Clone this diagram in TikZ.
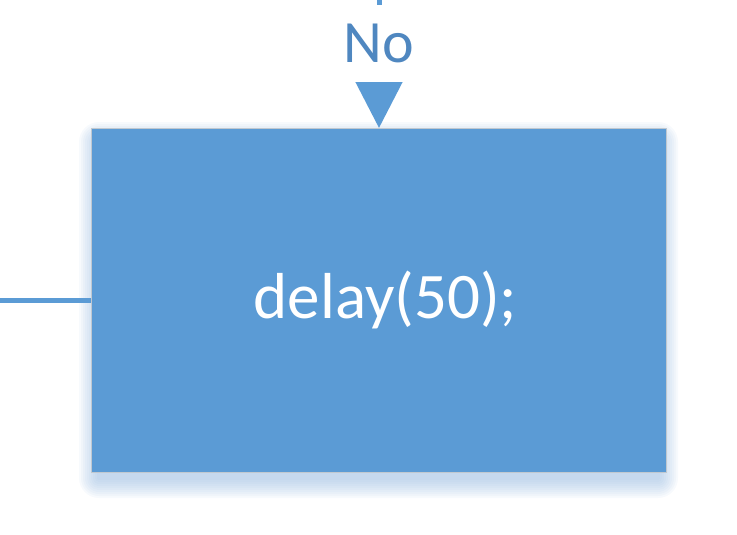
\documentclass[tikz,border=0pt]{standalone}
\usepackage{fontspec}
\setmainfont{Carlito}
\usetikzlibrary{arrows.meta}
\definecolor{boxblue}{HTML}{5B9BD5}
\definecolor{labelblue}{HTML}{4F87C0}
\definecolor{boxedge}{HTML}{C0C8D0}
\definecolor{shadowblue}{HTML}{8FB4DE}
\tikzset{
  procbox/.style={draw=boxedge, line width=1pt, fill=boxblue, minimum width=575pt, minimum height=344pt, inner sep=0pt,
    text=white, font=\fontsize{65}{72}\selectfont},
  conn/.style={draw=boxblue, line width=5pt},
  lbl/.style={fill=white, text=labelblue, inner sep=0pt, font=\fontsize{60}{66}\selectfont, minimum height=77pt, minimum width=90pt},
  shade layer/.style={fill=shadowblue, fill opacity=0.07, draw=none}
}
\begin{document}
\begin{tikzpicture}[x=1pt,y=-1pt]
\useasboundingbox (0,0) rectangle (737,535);
\foreach \r in {2,4,...,20}{
  \fill[shade layer, rounded corners=\r pt] (91-\r+8,128-\r+14) rectangle (666+\r-8,472+\r+6);
}
\node[procbox] (box) at (378.5,300) {\raisebox{-3pt}{\hspace{14pt}delay(50);}};
\coordinate (top) at (379,-2);
\coordinate (left) at (-2,300);
\draw[conn, -{Triangle[width=47pt,length=47pt]}, shorten >=-0.5pt] (top) -- (box.north -| top);
\node[lbl, anchor=north, text depth=0pt] (no) at (379,5) {\raisebox{1pt}{No}};
\draw[conn] (left) -- (box.west |- left);
\end{tikzpicture}
\end{document}
